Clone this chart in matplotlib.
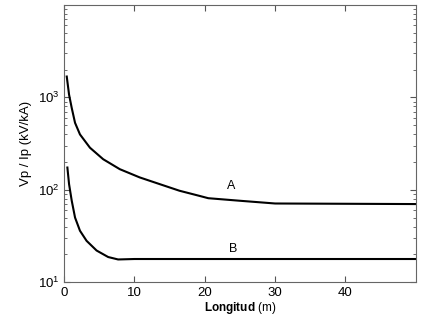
import numpy as np
import matplotlib
matplotlib.use("Agg")
import matplotlib.pyplot as plt

plt.rcParams['font.family'] = ['Liberation Sans', 'DejaVu Sans']
plt.rcParams['mathtext.fontset'] = 'custom'
plt.rcParams['mathtext.bf'] = 'Liberation Sans:bold'

# Curve A
xA = [0.38, 0.71, 1.09, 1.56, 2.26, 3.68, 5.56, 7.92, 10.75, 13.6, 16.4, 19.2, 20.5, 25.0, 30.0, 40.0, 50.0]
yA = [1680, 1070, 767, 530, 397, 285, 214, 167, 136, 115, 97.6, 86, 81, 76, 71, 70.5, 70]

# Curve B
xB = [0.47, 0.71, 1.09, 1.56, 2.26, 3.2, 4.62, 6.27, 7.68, 10.0, 20.0, 30.0, 40.0, 50.0]
yB = [174, 115, 76, 50, 36, 28, 22, 18.7, 17.6, 17.8, 17.8, 17.8, 17.8, 17.8]

xticks = [0, 10, 20, 30, 40]

fig = plt.figure(figsize=(4.3, 3.3), dpi=100)
ax = fig.add_axes([0.149, 0.145, 0.818, 0.84])

ax.plot(xA, yA, color='black', lw=1.5)
ax.plot(xB, yB, color='black', lw=1.5)

ax.set_yscale('log')
ax.set_xlim(0, 50)
ax.set_ylim(10, 1e4)
ax.set_xticks(xticks)
ax.set_yticks([10, 100, 1000])

ax.text(23.7, 110, 'A', fontsize=9, ha='center', va='center')
ax.text(24, 23, 'B', fontsize=9, ha='center', va='center')

ax.tick_params(which='both', direction='in', top=True, right=True,
               labelsize=9.5, color='#555555')
ax.tick_params(which='major', length=4)
ax.tick_params(which='minor', length=2)
for s in ax.spines.values():
    s.set_color('#666666')
    s.set_linewidth(0.8)

ax.set_ylabel('Vp / Ip (kV/kA)', fontsize=9.5)
ax.set_xlabel(r'$\mathbf{Longitud}$ (m)', fontsize=8.5, labelpad=1)

fig.savefig('out.png', dpi=100)
